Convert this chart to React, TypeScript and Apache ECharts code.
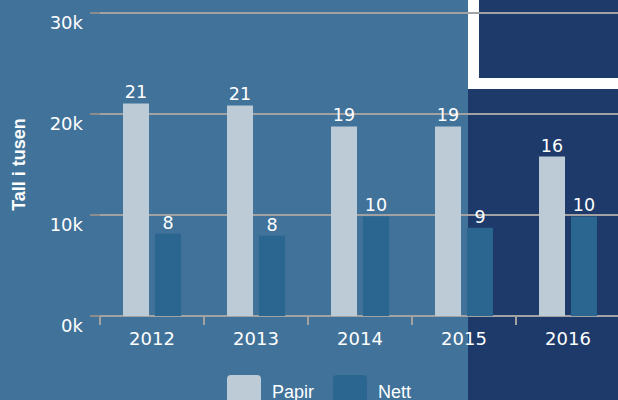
import React, { useEffect, useRef } from "react";
import * as echarts from "echarts";

const categories = ["2012", "2013", "2014", "2015", "2016"];
const papir = [21050, 20850, 18770, 18770, 15790];
const nett = [8140, 7940, 9860, 8740, 9860];
const yTicks = [0, 10000, 20000, 30000];
const seriesNames = ["Papir", "Nett"];
const yTitle = "Tall i tusen";

const BG = "#41729a";
const NAVY = "#1d3a6a";
const PAPIR_C = "#bccbd5";
const NETT_C = "#2a6690";
const GRID_C = "#a2a2a2";

export default function App() {
  const ref = useRef<HTMLDivElement>(null);
  useEffect(() => {
    const chart = echarts.init(ref.current!, null, { renderer: "svg" });
    const labelStyle = {
      show: true,
      position: "top" as const,
      distance: 2,
      color: "#ffffff",
      fontFamily: "DejaVu Sans",
      fontSize: 17.5,
      formatter: (p: any) => String(Math.round(p.value / 1000)),
    };
    chart.setOption({
      animation: false,
      backgroundColor: BG,
      graphic: [
        { type: "rect", z: -10, silent: true, shape: { x: 468, y: 0, width: 150, height: 400 }, style: { fill: NAVY } },
        { type: "rect", z: -9, silent: true, shape: { x: 468, y: 0, width: 11, height: 89 }, style: { fill: "#ffffff" } },
        { type: "rect", z: -9, silent: true, shape: { x: 468, y: 78, width: 150, height: 11 }, style: { fill: "#ffffff" } },
      ],
      grid: { left: 100, right: -2, top: 13, bottom: 84, containLabel: false, outerBoundsMode: "none" },
      legend: {
        data: seriesNames,
        left: 227,
        top: 375,
        padding: 0,
        itemWidth: 34,
        itemHeight: 34,
        itemGap: 19,
        icon: "path://M4,0 H30 A4,4 0 0 1 34,4 V30 A4,4 0 0 1 30,34 H4 A4,4 0 0 1 0,30 V4 A4,4 0 0 1 4,0 Z",
        textStyle: { color: "#ffffff", fontFamily: "Liberation Sans", fontSize: 18, padding: [0, 0, 0, 6] },
      },
      xAxis: {
        type: "category",
        data: categories,
        axisLine: { lineStyle: { color: GRID_C, width: 2 } },
        axisTick: { show: true, length: 9, lineStyle: { color: GRID_C, width: 2 } },
        axisLabel: { color: "#ffffff", fontFamily: "DejaVu Sans", fontSize: 18, margin: 13 },
      },
      yAxis: {
        type: "value",
        min: yTicks[0],
        max: yTicks[yTicks.length - 1],
        interval: yTicks[1] - yTicks[0],
        name: yTitle,
        nameLocation: "middle",
        nameRotate: 90,
        nameGap: 72,
        nameTextStyle: { color: "#ffffff", fontFamily: "Liberation Sans", fontWeight: "bold", fontSize: 18 },
        axisLine: { show: false },
        axisTick: { show: true, length: 10, lineStyle: { color: "#8c8c8c", width: 2 } },
        splitLine: { lineStyle: { color: GRID_C, width: 2 } },
        axisLabel: {
          color: "#ffffff",
          fontFamily: "DejaVu Sans",
          fontSize: 18,
          margin: 17,
          verticalAlign: "top",
          formatter: (v: number) => `${v / 1000}k`,
        },
      },
      series: [
        { name: seriesNames[0], type: "bar", data: papir, barWidth: 26, barGap: "23%", itemStyle: { color: PAPIR_C }, label: labelStyle },
        { name: seriesNames[1], type: "bar", data: nett, barWidth: 26, barGap: "23%", itemStyle: { color: NETT_C }, label: labelStyle },
      ],
    });
    return () => chart.dispose();
  }, []);
  return <div ref={ref} style={{ position: "fixed", left: 0, top: 0, width: 618, height: 400 }} />;
}
